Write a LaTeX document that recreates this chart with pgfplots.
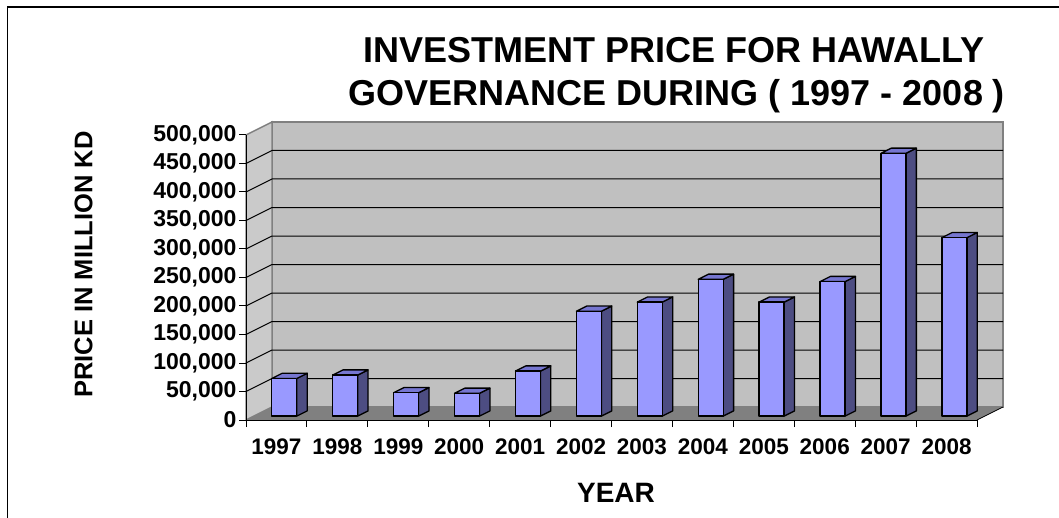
\documentclass[border=0pt]{standalone}
\usepackage{pgfplots}
\pgfplotsset{compat=1.18}
\usepackage{pgfplotstable}
\usepackage{fontspec}
\setmainfont{Liberation Sans}

\definecolor{wallback}{HTML}{C0C0C0}
\definecolor{wallleft}{HTML}{CACACA}
\definecolor{floorc}{HTML}{808080}
\definecolor{wallborder}{HTML}{808080}
\definecolor{barfront}{HTML}{9999FF}
\definecolor{barside}{HTML}{4D4D82}
\definecolor{bartop}{HTML}{7676D0}

% values in thousands of million KD
\pgfplotstableread{
year v
1997 66
1998 72
1999 41
2000 40
2001 79
2002 184
2003 200
2004 240
2005 200
2006 236
2007 461
2008 313
}\datatable

\newcommand\Dx{0.427}
\newcommand\Dy{22.8}

\begin{document}
\begin{tikzpicture}[x=1pt,y=1pt]
\path[use as bounding box] (0,0) rectangle (1059,517);
\fill[white] (0,0) rectangle (1059,517);
\draw[line width=1.5pt] (7.5,-5) -- (7.5,510) -- (1070,510);

\node[font=\bfseries\fontsize{36}{40}\selectfont, anchor=base] at (674,454) {INVESTMENT PRICE FOR HAWALLY};
\node[font=\bfseries\fontsize{36}{40}\selectfont, anchor=base] at (677,411) {GOVERNANCE DURING ( 1997 - 2008 )};
\node[font=\bfseries\fontsize{25.5}{30}\selectfont, rotate=90] at (83.5,252.5) {PRICE IN MILLION KD};
\node[font=\bfseries\fontsize{28}{32}\selectfont, anchor=base] at (616,15) {YEAR};

\begin{axis}[
  at={(246pt,97pt)}, anchor=south west,
  x=60.92pt, y=0.57pt,
  xmin=0, xmax=12, ymin=0, ymax=500,
  clip=false, axis on top,
  axis lines*=left,
  axis line style={black, line width=1pt},
  tick align=outside,
  major tick length=7pt,
  tick style={black, line width=1pt},
  xtick={0,...,12},
  x tick label as interval,
  xticklabels={1997,1998,1999,2000,2001,2002,2003,2004,2005,2006,2007,2008},
  ytick={0,50,...,500},
  yticklabels={0,{50,000},{100,000},{150,000},{200,000},{250,000},{300,000},{350,000},{400,000},{450,000},{500,000}},
  xticklabel style={font=\bfseries\fontsize{22.5}{24}\selectfont, yshift=-8pt},
  yticklabel style={font=\bfseries\fontsize{23}{24}\selectfont, xshift=1pt},
  /pgf/number format/assume math mode=true,
]
% walls and floor
\addplot[fill=wallback, draw=wallborder, line width=1.5pt] coordinates {(0.427,22.8) (12.427,22.8) (12.427,522.8) (0.427,522.8)} -- cycle;
\addplot[fill=wallleft, draw=wallborder, line width=1.5pt] coordinates {(0,0) (0.427,22.8) (0.427,522.8) (0,500)} -- cycle;
\addplot[fill=floorc, draw=none] coordinates {(0,0) (12,0) (12.427,22.8) (0.427,22.8)} -- cycle;
\addplot[black, line width=0.8pt] coordinates {(12,0) (12.427,22.8)};
% gridlines
\pgfplotsinvokeforeach{50,100,...,450}{
  \pgfmathsetmacro\GY{#1+\Dy}
  \addplot[black, line width=1pt] coordinates {(0,#1) (0.427,\GY) (12.427,\GY)};
}
% bars
\pgfplotsinvokeforeach{0,...,11}{
  \pgfplotstablegetelem{#1}{v}\of\datatable
  \pgfmathsetmacro\V{\pgfplotsretval}
  \pgfmathsetmacro\XL{#1+0.5-0.205+0.3*\Dx}
  \pgfmathsetmacro\XR{\XL+0.41}
  \pgfmathsetmacro\XRb{\XR+0.4*\Dx}
  \pgfmathsetmacro\XLb{\XL+0.4*\Dx}
  \pgfmathsetmacro\YB{0.3*\Dy}
  \pgfmathsetmacro\YT{\V+0.3*\Dy}
  \pgfmathsetmacro\YBb{0.7*\Dy}
  \pgfmathsetmacro\YTb{\V+0.7*\Dy}
  \addplot[fill=barside, draw=black, line width=1.3pt, line join=round] coordinates {(\XR,\YB) (\XRb,\YBb) (\XRb,\YTb) (\XR,\YT)} -- cycle;
  \addplot[fill=bartop, draw=black, line width=1.3pt, line join=round] coordinates {(\XL,\YT) (\XR,\YT) (\XRb,\YTb) (\XLb,\YTb)} -- cycle;
  \addplot[fill=barfront, draw=black, line width=1.3pt, line join=round] coordinates {(\XL,\YB) (\XR,\YB) (\XR,\YT) (\XL,\YT)} -- cycle;
}
\end{axis}
\end{tikzpicture}
\end{document}
